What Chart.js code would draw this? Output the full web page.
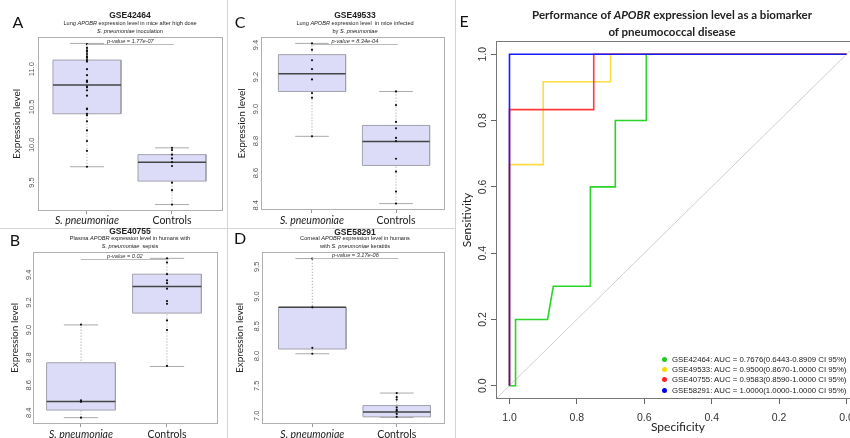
<!DOCTYPE html>
<html>
<head>
<meta charset="utf-8">
<script src="https://cdn.jsdelivr.net/npm/chart.js@4.4.0/dist/chart.umd.min.js"></script>
<style>
  html, body { margin: 0; padding: 0; background: #fff; overflow: hidden; }
  #wrap { position: relative; width: 850px; height: 438px; overflow: hidden; font-family: Lato, 'Open Sans', sans-serif; }
  canvas { position: absolute; }
  .t { position: absolute; transform: translate(-50%, -50%); white-space: nowrap; color: #222; line-height: 1; }
  .letter { font-size: 16px; color: #111; }
  .gse { font-size: 8.5px; font-weight: bold; font-family: 'Liberation Sans', Arial, sans-serif; }
  .sub { font-size: 5.6px; font-family: 'Liberation Sans', Arial, sans-serif; }
  .etitle { font-size: 11.5px; font-weight: bold; }
  .sep { position: absolute; background: #d4d4d4; }
  .leg { position: absolute; left: 662px; font-family: 'Liberation Sans', Arial, sans-serif; font-size: 7.8px; color: #222; white-space: nowrap; line-height: 1; }
  .leg span.dot { display: inline-block; width: 5px; height: 5px; border-radius: 50%; margin-right: 5px; vertical-align: 0px; }
</style>
</head>
<body>
<div id="wrap">
  <canvas id="chartA" width="228" height="196" style="left:0;top:30px"></canvas>
  <canvas id="chartB" width="228" height="193" style="left:0;top:245px"></canvas>
  <canvas id="chartC" width="227" height="196" style="left:228px;top:30px"></canvas>
  <canvas id="chartD" width="227" height="193" style="left:228px;top:245px"></canvas>
  <canvas id="chartE" width="410" height="438" style="left:458px;top:0"></canvas>

  <div class="sep" style="left:227px;top:0;width:1px;height:438px"></div>
  <div class="sep" style="left:455px;top:0;width:1px;height:438px"></div>
  <div class="sep" style="left:0;top:228px;width:455px;height:1px"></div>

  <div class="t letter" style="left:18px;top:22px">A</div>
  <div class="t gse" style="left:130px;top:15px">GSE42464</div>
  <div class="t sub" style="left:130px;top:24px">Lung <i>APOBR</i> expression level in mice after high dose</div>
  <div class="t sub" style="left:130px;top:32px"><i>S. pneumoniae</i> inoculation</div>

  <div class="t letter" style="left:15px;top:240px">B</div>
  <div class="t gse" style="left:130px;top:231px">GSE40755</div>
  <div class="t sub" style="left:130px;top:239px">Plasma <i>APOBR</i> expression level in humans with</div>
  <div class="t sub" style="left:130px;top:247px"><i>S. pneumoniae</i>&nbsp; sepsis</div>

  <div class="t letter" style="left:240px;top:22px">C</div>
  <div class="t gse" style="left:355px;top:15px">GSE49533</div>
  <div class="t sub" style="left:355px;top:24px">Lung <i>APOBR</i> expression level &nbsp;in mice infected</div>
  <div class="t sub" style="left:355px;top:32px">by <i>S. pneumoniae</i></div>

  <div class="t letter" style="left:240px;top:238px">D</div>
  <div class="t gse" style="left:355px;top:232px">GSE58291</div>
  <div class="t sub" style="left:355px;top:239px">Corneal <i>APOBR</i> expression level in humans</div>
  <div class="t sub" style="left:355px;top:247px">with <i>S. pneumoniae</i> keratitis</div>

  <div class="t letter" style="left:464px;top:21px">E</div>
  <div class="t etitle" style="left:672px;top:15px">Performance of <i>APOBR</i> expression level as a biomarker</div>
  <div class="t etitle" style="left:672px;top:32px">of pneumococcal disease</div>

  <div class="leg" style="top:356px"><span class="dot" style="background:#22cc22"></span>GSE42464: AUC = 0.7676(0.6443-0.8909 CI 95%)</div>
  <div class="leg" style="top:366px"><span class="dot" style="background:#ffd700"></span>GSE49533: AUC = 0.9500(0.8670-1.0000 CI 95%)</div>
  <div class="leg" style="top:376px"><span class="dot" style="background:#ff2020"></span>GSE40755: AUC = 0.9583(0.8590-1.0000 CI 95%)</div>
  <div class="leg" style="top:387px"><span class="dot" style="background:#0000ee"></span>GSE58291: AUC = 1.0000(1.0000-1.0000 CI 95%)</div>
</div>

<script>
// groupes communs aux 4 boxplots
const groups = ['S. pneumoniae', 'Controls'];

// A - GSE42464
const aLow = [9.71, 9.21];
const aQ1 = [10.41, 9.52];
const aMed = [10.79, 9.77];
const aQ3 = [11.12, 9.87];
const aHigh = [11.34, 9.96];
const aPtsSp = [11.33, 11.28, 11.25, 11.23, 11.2, 11.17, 11.15, 11.12, 11.1, 11.0, 10.92, 10.85, 10.84,
  10.83, 10.77, 10.76, 10.72, 10.65, 10.48, 10.47, 10.41, 10.39, 10.31, 10.19, 10.05, 9.92, 9.71];
const aPtsCt = [9.96, 9.93, 9.87, 9.82, 9.77, 9.72, 9.5, 9.4, 9.21];
const aTicks = [9.5, 10.0, 10.5, 11.0];

// B - GSE40755
const bLow = [8.365, 8.736];
const bQ1 = [8.42, 9.123];
const bMed = [8.482, 9.316];
const bQ3 = [8.763, 9.405];
const bHigh = [9.037, 9.52];
const bPtsSp = [9.04, 8.49, 8.48, 8.365];
const bPtsCt = [9.52, 9.49, 9.405, 9.36, 9.34, 9.3, 9.21, 9.19, 9.07, 9.0, 8.74];
const bTicks = [8.4, 8.6, 8.8, 9.0, 9.2, 9.4];

// C - GSE49533
const cLow = [8.83, 8.41];
const cQ1 = [9.11, 8.648];
const cMed = [9.22, 8.798];
const cQ3 = [9.34, 8.898];
const cHigh = [9.41, 9.11];
const cPtsSp = [9.41, 9.37, 9.305, 9.25, 9.185, 9.1, 9.07, 8.83];
const cPtsCt = [9.11, 9.025, 8.92, 8.88, 8.82, 8.8, 8.69, 8.61, 8.485, 8.41];
const cTicks = [8.4, 8.6, 8.8, 9.0, 9.2, 9.4];

// D - GSE58291
const dLow = [8.04, 6.97];
const dQ1 = [8.12, 6.98];
const dMed = [8.82, 7.06];
const dQ3 = [8.82, 7.17];
const dHigh = [9.64, 7.38];
const dPtsSp = [9.64, 8.82, 8.14, 8.04];
const dPtsCt = [7.38, 7.31, 7.27, 7.14, 7.1, 7.08, 7.03, 6.98];
const dTicks = [7.0, 7.5, 8.0, 8.5, 9.0, 9.5];

// E - courbes ROC (specificite, sensibilite)
const greenSpec = [1, 0.982, 0.982, 0.887, 0.87, 0.76, 0.76, 0.686, 0.686, 0.594, 0.594, 0];
const greenSens = [0, 0, 0.2, 0.2, 0.3, 0.3, 0.6, 0.6, 0.8, 0.8, 1, 1];
const yellowSpec = [1, 1, 0.9, 0.9, 0.7, 0.7, 0];
const yellowSens = [0, 0.667, 0.667, 0.917, 0.917, 1, 1];
const redSpec = [1, 1, 0.75, 0.75, 0];
const redSens = [0, 0.833, 0.833, 1, 1];
const blueSpec = [1, 1, 0];
const blueSens = [0, 1, 1];
const diagSpec = [1.04, -0.04];
const diagSens = [-0.04, 1.04];
const rocTicks = [0, 0.2, 0.4, 0.6, 0.8, 1.0];

// cadre autour de la zone de tracé (style R)
const framePlugin = {
  id: 'frame',
  afterDraw(chart, args, opts) {
    const { ctx, chartArea: a } = chart;
    ctx.save();
    ctx.strokeStyle = opts.color || '#aaa';
    ctx.lineWidth = 1;
    ctx.strokeRect(Math.round(a.left) + 0.5, Math.round(a.top) + 0.5,
      Math.round(a.right - a.left) - 1, Math.round(a.bottom - a.top) - 1);
    ctx.restore();
  }
};

// étiquettes de l'axe Y tournées à 90° comme dans R
const rotYPlugin = {
  id: 'rotY',
  afterDraw(chart, args, opts) {
    const ys = chart.scales.y;
    const { ctx, chartArea } = chart;
    ctx.save();
    ctx.font = opts.font;
    ctx.fillStyle = opts.color;
    ctx.textAlign = 'center';
    ctx.textBaseline = 'middle';
    ys.ticks.forEach(t => {
      const py = ys.getPixelForValue(t.value);
      ctx.save();
      ctx.translate(chartArea.left - opts.gap, py);
      ctx.rotate(-Math.PI / 2);
      ctx.fillText(t.value.toFixed(1), 0, 0);
      ctx.restore();
    });
    ctx.restore();
  }
};

// barre de p-value entre les deux groupes
const pvalPlugin = {
  id: 'pval',
  afterDraw(chart, args, opts) {
    if (!opts.text) return;
    const { ctx, chartArea } = chart;
    const xs = chart.scales.x;
    const x1 = xs.getPixelForValue(1), x2 = xs.getPixelForValue(2.02);
    const y = Math.round(chartArea.top + opts.dy) + 0.5;
    ctx.save();
    ctx.strokeStyle = '#bbb';
    ctx.lineWidth = 1;
    ctx.beginPath();
    ctx.moveTo(x1, y);
    ctx.lineTo(x2, y);
    ctx.stroke();
    ctx.font = 'italic 5.6px "Liberation Sans", Arial, sans-serif';
    ctx.fillStyle = '#333';
    ctx.textAlign = 'center';
    ctx.textBaseline = 'bottom';
    ctx.fillText(opts.text, (x1 + x2) / 2, y - 0.5);
    ctx.restore();
  }
};

function boxPanel(id, d) {
  const pos = [1, 2];
  const half = 0.4;
  const datasets = [];
  const seg = (x1, y1, x2, y2) => [{ x: x1, y: y1 }, { x: x2, y: y2 }];
  pos.forEach((x, i) => {
    // moustache pointillée
    datasets.push({ data: seg(x, d.low[i], x, d.high[i]),
      borderColor: '#999', borderWidth: 1, borderDash: [1, 2], order: 6 });
    // remplissage de la boîte (q1 -> q3)
    datasets.push({ data: seg(x - half, d.q3[i], x + half, d.q3[i]), fill: { value: d.q1[i] },
      backgroundColor: '#dcdcf9', borderWidth: 0, order: 5 });
    // contour de la boîte
    datasets.push({ data: [{ x: x - half, y: d.q1[i] }, { x: x - half, y: d.q3[i] }, { x: x + half, y: d.q3[i] },
      { x: x + half, y: d.q1[i] }, { x: x - half, y: d.q1[i] }],
      borderColor: '#a2a2ac', borderWidth: 1, order: 4 });
    // extrémités
    datasets.push({ data: seg(x - 0.2, d.low[i], x + 0.2, d.low[i]), borderColor: '#aaa', borderWidth: 1, order: 3 });
    datasets.push({ data: seg(x - 0.2, d.high[i], x + 0.2, d.high[i]), borderColor: '#aaa', borderWidth: 1, order: 3 });
    // médiane
    datasets.push({ data: seg(x - half, d.med[i], x + half, d.med[i]), borderColor: '#444', borderWidth: 1.5, order: 2 });
    // points individuels
    datasets.push({ showLine: false, data: d.pts[i].map(v => ({ x: x, y: v })),
      pointRadius: 1.1, pointBackgroundColor: '#111', pointBorderWidth: 0, order: 1 });
  });

  new Chart(document.getElementById(id), {
    type: 'line',
    data: { datasets: datasets },
    plugins: [framePlugin, rotYPlugin, pvalPlugin],
    options: {
      responsive: false,
      animation: false,
      events: [],
      elements: { point: { radius: 0 }, line: { tension: 0 } },
      layout: { padding: d.pad },
      scales: {
        x: {
          type: 'linear', min: d.xmin, max: d.xmax, offset: false,
          afterBuildTicks: s => { s.ticks = pos.map(v => ({ value: v })); },
          afterFit: s => { s.height = d.xh; },
          border: { display: false },
          grid: { drawOnChartArea: false, drawTicks: true, tickLength: 3, color: '#999', offset: false },
          ticks: {
            padding: d.xpad, color: '#222', maxRotation: 0, autoSkip: false,
            font: ctx => ({ family: 'Lato', size: 10.5, style: ctx.index === 0 ? 'italic' : 'normal' }),
            callback: (v, i) => groups[i]
          }
        },
        y: {
          type: 'linear', min: d.ymin, max: d.ymax,
          afterBuildTicks: s => { s.ticks = d.ticks.map(v => ({ value: v })); },
          afterFit: s => { s.width = d.yw; },
          border: { display: false },
          grid: { display: false },
          ticks: { display: false },
          title: {
            display: true, text: 'Expression level', color: '#222',
            font: { family: 'Lato', size: 10 }, padding: { top: d.tpad, bottom: 0 }
          }
        }
      },
      plugins: {
        legend: { display: false },
        tooltip: { enabled: false },
        frame: { color: '#b0b0b0' },
        rotY: { gap: d.gap, font: '7.5px "Liberation Sans", Arial, sans-serif', color: '#555' },
        pval: { text: d.pval, dy: d.dy }
      }
    }
  });
}

boxPanel('chartA', {
  low: aLow, q1: aQ1, med: aMed, q3: aQ3, high: aHigh, pts: [aPtsSp, aPtsCt], ticks: aTicks,
  ymin: 9.125, ymax: 11.425, xmin: 0.424, xmax: 2.6,
  pad: { left: 0, top: 7, right: 5, bottom: 0 }, yw: 38, xh: 15, xpad: 0, tpad: 11, gap: 6,
  pval: 'p-value = 1.77e-07', dy: 7
});
boxPanel('chartB', {
  low: bLow, q1: bQ1, med: bMed, q3: bQ3, high: bHigh, pts: [bPtsSp, bPtsCt], ticks: bTicks,
  ymin: 8.319, ymax: 9.566, xmin: 0.442, xmax: 2.593,
  pad: { left: 0, top: 7, right: 10, bottom: 0 }, yw: 33, xh: 14, xpad: 1, tpad: 9, gap: 4.5,
  pval: 'p-value = 0.02', dy: 7
});
boxPanel('chartC', {
  low: cLow, q1: cQ1, med: cMed, q3: cQ3, high: cHigh, pts: [cPtsSp, cPtsCt], ticks: cTicks,
  ymin: 8.37, ymax: 9.45, xmin: 0.393, xmax: 2.583,
  pad: { left: 0, top: 7, right: 10, bottom: 0 }, yw: 33, xh: 16, xpad: 1, tpad: 8, gap: 5,
  pval: 'p-value = 8.34e-04', dy: 6.5
});
boxPanel('chartD', {
  low: dLow, q1: dQ1, med: dMed, q3: dQ3, high: dHigh, pts: [dPtsSp, dPtsCt], ticks: dTicks,
  ymin: 6.86, ymax: 9.75, xmin: 0.404, xmax: 2.572,
  pad: { left: 0, top: 7, right: 10, bottom: 0 }, yw: 34, xh: 14, xpad: 1, tpad: 6, gap: 5,
  pval: 'p-value = 3.17e-06', dy: 6
});

// E - ROC
function zip(sx, sy) { return sx.map((v, i) => ({ x: v, y: sy[i] })); }
const rocLine = { type: 'line', pointRadius: 0, borderWidth: 1.6, fill: false, tension: 0 };

new Chart(document.getElementById('chartE'), {
  type: 'line',
  data: {
    datasets: [
      Object.assign({}, rocLine, { label: 'GSE58291', data: zip(blueSpec, blueSens), borderColor: '#1a1aff', order: 0 }),
      Object.assign({}, rocLine, { label: 'GSE40755', data: zip(redSpec, redSens), borderColor: '#ff3a3a', order: 1 }),
      Object.assign({}, rocLine, { label: 'GSE49533', data: zip(yellowSpec, yellowSens), borderColor: '#ffdc40', order: 2 }),
      Object.assign({}, rocLine, { label: 'GSE42464', data: zip(greenSpec, greenSens), borderColor: '#2ad42a', order: 3 }),
      Object.assign({}, rocLine, { label: 'diag', data: zip(diagSpec, diagSens), borderColor: '#cfcfcf', borderWidth: 1, order: 4 })
    ]
  },
  plugins: [framePlugin, rotYPlugin],
  options: {
    responsive: false,
    animation: false,
    events: [],
    layout: { padding: { left: 0, top: 41, right: 8, bottom: 0 } },
    scales: {
      x: {
        type: 'linear', reverse: true, min: -0.04, max: 1.04,
        afterBuildTicks: s => { s.ticks = rocTicks.map(v => ({ value: v })); },
        afterFit: s => { s.height = 39; },
        border: { display: false },
        grid: { drawOnChartArea: false, drawTicks: true, tickLength: 5, color: '#666' },
        ticks: {
          padding: 8, color: '#333', maxRotation: 0,
          font: { family: '"Liberation Sans", Arial, sans-serif', size: 10.5 },
          callback: v => v.toFixed(1)
        },
        title: {
          display: true, text: 'Specificity', color: '#222',
          font: { family: 'Lato', size: 12 }, padding: { top: 0, bottom: 4 }
        }
      },
      y: {
        type: 'linear', min: -0.04, max: 1.04,
        afterBuildTicks: s => { s.ticks = rocTicks.map(v => ({ value: v })); },
        afterFit: s => { s.width = 38; },
        border: { display: false },
        grid: { drawOnChartArea: false, drawTicks: true, tickLength: 5, color: '#666' },
        ticks: { display: false },
        title: {
          display: true, text: 'Sensitivity', color: '#222',
          font: { family: 'Lato', size: 12 }, padding: { top: 2, bottom: 0 }
        }
      }
    },
    plugins: {
      legend: { display: false },
      tooltip: { enabled: false },
      frame: { color: '#777' },
      rotY: { gap: 13, font: '10.5px "Liberation Sans", Arial, sans-serif', color: '#333' }
    }
  }
});
</script>
</body>
</html>
